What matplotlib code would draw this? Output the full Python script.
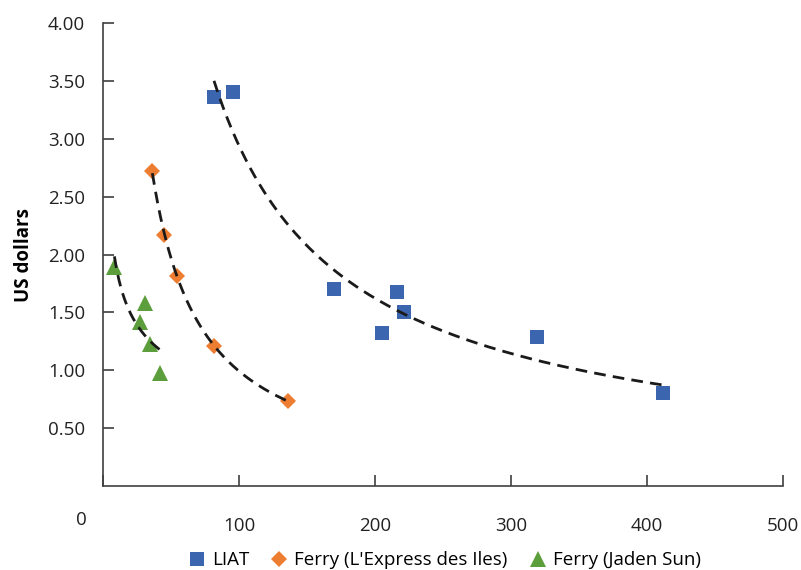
import matplotlib
matplotlib.use("Agg")
import matplotlib.pyplot as plt
import numpy as np

plt.rcParams["font.family"] = ["Open Sans", "DejaVu Sans"]

# readings
liat_x = [81.6, 95.6, 170, 216.4, 205.4, 221.5, 319, 412]
liat_y = [3.36, 3.40, 1.70, 1.68, 1.325, 1.50, 1.29, 0.805]
express_x = [36.3, 45, 54.5, 81.6, 135.8]
express_y = [2.72, 2.17, 1.81, 1.21, 0.735]
jaden_x = [8.4, 31, 27.3, 34.8, 42]
jaden_y = [1.89, 1.58, 1.42, 1.23, 0.98]

series = [
    ("LIAT", liat_x, liat_y, "s", "#3B65AE", 10.5),
    ("Ferry (L'Express des Iles)", express_x, express_y, "D", "#ED7D31", 8.5),
    ("Ferry (Jaden Sun)", jaden_x, jaden_y, "^", "#5C9E3C", 11),
]

fig = plt.figure(figsize=(8.01, 5.70), dpi=100)
ax = fig.add_axes([0.1286, 0.1474, 0.849, 0.8122])

for name, xs, ys, mk, col, ms in series:
    ax.plot(xs, ys, linestyle="none", marker=mk, color=col, markersize=ms,
            markeredgewidth=0, label=name, zorder=3)
    # power trend line, like Excel's
    b, a = np.polyfit(np.log(xs), np.log(ys), 1)
    tx = np.linspace(min(xs), max(xs), 200)
    ax.plot(tx, np.exp(a) * tx ** b, color="#1a1a1a", lw=2, dashes=(4.2, 2.6), zorder=4)

ax.set_xlim(0, 500)
ax.set_ylim(0, 4)
ax.set_yticks(np.arange(0.5, 4.01, 0.5))
ax.set_yticklabels([f"{v:.2f}" for v in np.arange(0.5, 4.01, 0.5)])
ax.set_xticks([0, 100, 200, 300, 400, 500])
ax.set_xticklabels(["", "100", "200", "300", "400", "500"])
ax.text(-15.7, -0.295, "0", transform=ax.transData, ha="center", va="center",
        fontsize=13.5, color="#222222", clip_on=False)

for s in ("top", "right"):
    ax.spines[s].set_visible(False)
for s in ("left", "bottom"):
    ax.spines[s].set_color("#404040")
    ax.spines[s].set_linewidth(1.2)
ax.tick_params(axis="both", direction="in", length=8, width=1.2, color="#404040",
               labelsize=13.5, labelcolor="#222222")
ax.tick_params(axis="x", pad=22)
ax.tick_params(axis="y", pad=13)
ax.set_ylabel("US dollars", fontsize=13.5, fontweight="bold", labelpad=10)

ax.legend(loc="upper center", bbox_to_anchor=(0.5, -0.105), ncol=3, frameon=False,
          fontsize=13.5, handletextpad=0.2, columnspacing=1.0, handlelength=1.2)

fig.savefig("out.png", dpi=100, facecolor="white")
